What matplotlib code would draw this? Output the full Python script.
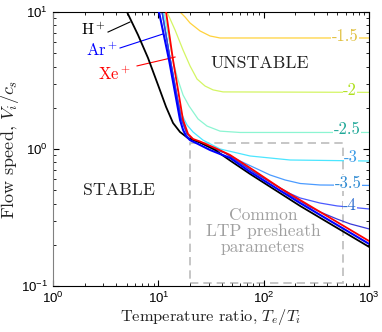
import matplotlib
matplotlib.use("Agg")
import matplotlib.pyplot as plt
from matplotlib.patches import Rectangle

plt.rcParams['font.family'] = ['Liberation Sans', 'DejaVu Sans']
plt.rcParams['mathtext.fontset'] = 'cm'
plt.rcParams['axes.formatter.use_mathtext'] = True

# stability boundaries
h_te = [5.04, 6.42, 7.98, 9.94, 11.84, 13.79, 16.07, 19.15, 24.89, 34.56, 47.96, 74.29, 221.7, 1000]
h_v = [10, 6.79, 4.62, 2.93, 2.03, 1.548, 1.33, 1.20, 1.115, 0.983, 0.824, 0.657, 0.384, 0.193]

ar_te = [10.15, 12.64, 16.07, 17.16, 18.33, 20.0, 23.31, 30.97, 47.96, 74.29, 221.7, 1000]
ar_v = [10, 4.46, 1.63, 1.38, 1.244, 1.16, 1.097, 0.983, 0.860, 0.680, 0.403, 0.203]

xe_te = [11.84, 13.79, 17.16, 19.15, 21.36, 24.89, 34.56, 47.96, 74.29, 143.1, 221.7, 1000]
xe_v = [10, 4.46, 1.63, 1.287, 1.183, 1.134, 1.017, 0.904, 0.727, 0.519, 0.424, 0.213]

# growth rate contours, log10 levels
c15_te = [16.07, 17.93, 20.0, 24.89, 30.97, 38.55, 1000]
c15_v = [10, 9.19, 8.31, 7.27, 6.68, 6.46, 6.46]

c20_te = [12.09, 14.41, 17.16, 20.0, 23.31, 27.77, 33.08, 41.16, 1000]
c20_v = [10, 7.39, 5.28, 4.04, 3.24, 2.88, 2.70, 2.61, 2.59]

c25_te = [11.33, 12.91, 14.10, 15.39, 17.16, 19.57, 23.82, 29.01, 38.55, 59.7, 1000]
c25_v = [10, 5.74, 4.10, 3.19, 2.48, 2.06, 1.656, 1.47, 1.35, 1.32, 1.32]

c30_te = [11.08, 12.64, 14.10, 15.39, 16.80, 18.73, 21.36, 26.58, 38.55, 74.29, 178.1, 1000]
c30_v = [10, 4.86, 2.93, 2.20, 1.77, 1.497, 1.33, 1.16, 1.0, 0.889, 0.831, 0.817]

c35_te = [10.84, 12.91, 16.43, 18.73, 21.36, 24.89, 32.36, 42.99, 59.7, 82.84, 115.0, 159.7, 221.7, 343.2, 1000]
c35_v = [10, 4.62, 1.68, 1.287, 1.173, 1.115, 1.017, 0.935, 0.817, 0.727, 0.646, 0.594, 0.560, 0.546, 0.542]

c40_te = [10.84, 12.91, 16.43, 18.73, 21.36, 24.89, 32.36, 42.99, 59.7, 82.84, 115.0, 143.1, 178.1, 221.7, 343.2, 497.9, 1000]
c40_v = [10, 4.62, 1.68, 1.287, 1.173, 1.115, 1.017, 0.935, 0.790, 0.668, 0.574, 0.519, 0.473, 0.439, 0.403, 0.384, 0.365]

c45_te = [10.84, 12.91, 16.43, 18.73, 21.36, 24.89, 32.36, 42.99, 59.7, 82.84, 115.0, 143.1, 178.1, 221.7, 275.8, 343.2, 497.9, 661.4, 1000]
c45_v = [10, 4.62, 1.68, 1.287, 1.173, 1.115, 1.017, 0.935, 0.790, 0.668, 0.574, 0.519, 0.459, 0.417, 0.377, 0.347, 0.308, 0.284, 0.261]

contours = [
    (c15_te, c15_v, '#ffd23c', '-1.5', 593, 6.60, '#e0c040'),
    (c20_te, c20_v, '#d4f564', '-2', 661, 2.66, '#b0e020'),
    (c25_te, c25_v, '#8cf5d2', '-2.5', 620, 1.40, '#20a898'),
    (c30_te, c30_v, '#4be6ff', '-3', 676, 0.875, '#3c9be6'),
    (c35_te, c35_v, '#4b9bff', '-3.5', 633, 0.560, '#2e8ad2'),
    (c40_te, c40_v, '#4b5aff', '-4', 661, 0.388, '#2a6acf'),
    (c45_te, c45_v, '#3a3ad8', None, 0, 0, None),
]

serif = dict(family='cmr10')

fig = plt.figure(figsize=(3.82, 3.32), dpi=100)
ax = fig.add_axes([0.1387, 0.1386, 0.8273, 0.8253])
ax.set_xscale('log')
ax.set_yscale('log')

for te, v, col, lab, lx, ly, lcol in contours:
    ax.plot(te, v, color=col, lw=0.9, zorder=2)
    if lab:
        ax.text(lx, ly, lab, color=lcol, fontsize=12, ha='center', va='center',
                bbox=dict(facecolor='white', edgecolor='none', pad=0.3), zorder=3, **serif)

ax.plot(h_te, h_v, color='black', lw=1.3, zorder=4)
ax.plot(ar_te, ar_v, color='#0000ff', lw=1.5, zorder=5)
ax.plot(xe_te, xe_v, color='#ff0000', lw=1.3, zorder=6)

# region of typical LTP presheath parameters
ax.add_patch(Rectangle((20, 0.105), 570 - 20, 1.1 - 0.105, fill=False, ec='#bcbcbc',
                       lw=1.2, ls=(0, (5, 3)), zorder=1))
ax.text(98.7, 0.250, 'Common\nLTP presheath\nparameters', color='#a0a0a0', fontsize=12.5,
        ha='center', va='center', linespacing=1.05, **serif)

ax.text(92.4, 4.24, 'UNSTABLE', fontsize=12.8, ha='center', va='center', color='#222222', **serif)
ax.text(4.24, 0.502, 'STABLE', fontsize=12.8, ha='center', va='center', color='#222222', **serif)

# species labels
ax.text(2.40, 7.39, 'H$^+$', color='black', fontsize=11.5, ha='center', va='center', **serif)
ax.plot([3.33, 5.38], [7.14, 8.45], color='black', lw=0.8)
ax.text(2.92, 5.28, 'Ar$^+$', color='#0000ff', fontsize=12, ha='center', va='center', **serif)
ax.plot([4.33, 11.08], [5.46, 6.91], color='#0000ff', lw=0.8)
ax.text(3.80, 3.53, 'Xe$^+$', color='#ff0000', fontsize=12, ha='center', va='center', **serif)
ax.plot([6.28, 14.41], [4.04, 4.69], color='#ff0000', lw=0.8)

ax.set_xlim(1, 1000)
ax.set_ylim(0.1, 10)
ax.set_xlabel('Temperature ratio, $T_e/T_i$', fontsize=11.8, labelpad=1, color='#222222', **serif)
ax.set_ylabel('Flow speed, $V_i/c_s$', fontsize=13, labelpad=0, color='#222222', **serif)

ax.tick_params(which='both', direction='in', top=True, right=True, labelsize=9.5)
ax.tick_params(which='major', length=4)
ax.tick_params(which='minor', length=2)
ax.spines['left'].set_color('#808080')

fig.savefig('out.png', dpi=100)
